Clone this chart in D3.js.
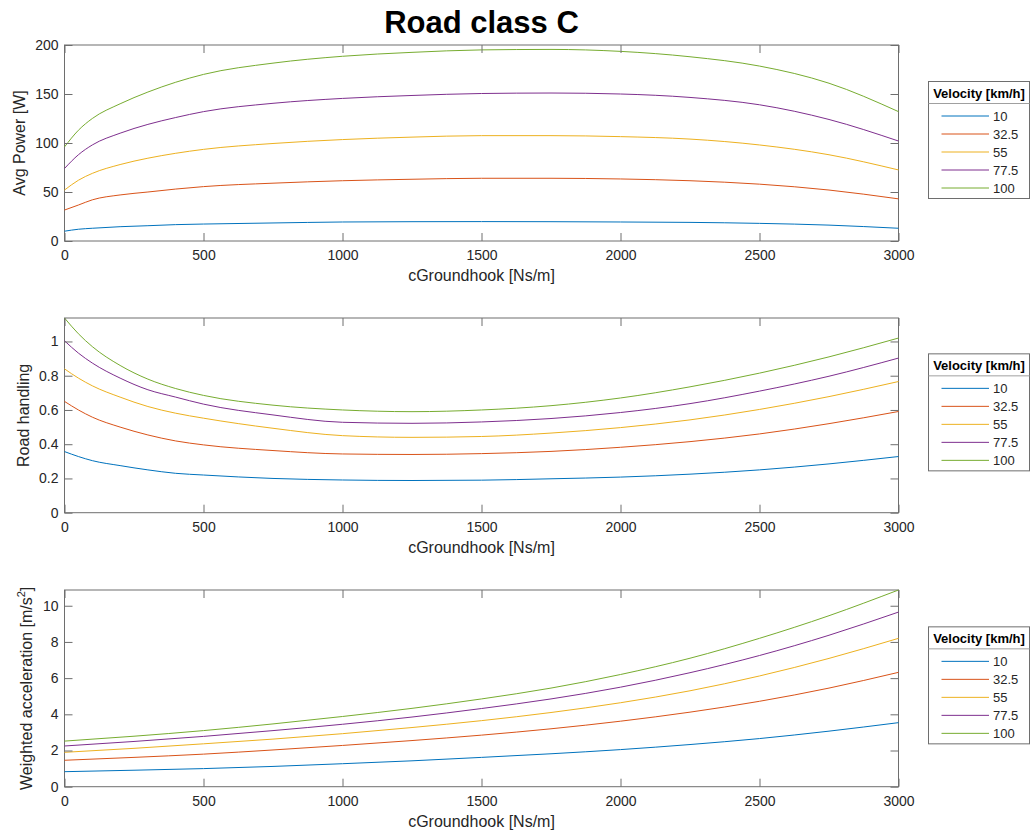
<!DOCTYPE html>
<html>
<head>
<meta charset="utf-8">
<script src="https://cdn.jsdelivr.net/npm/d3@7"></script>
<style>
  body { margin: 0; background: #ffffff; }
  svg { display: block; font-family: Arial, "Liberation Sans", Helvetica, sans-serif; }
</style>
</head>
<body>
<svg id="chart" width="1032" height="835"></svg>
<script>
// ---- data -------------------------------------------------------------
const velocities = ["10", "32.5", "55", "77.5", "100"];

// groundhook damping coefficient samples [Ns/m]
const cGround = [0, 50, 100, 200, 300, 400, 500, 750, 1000, 1250, 1500, 1750, 2000, 2250, 2500, 2750, 3000];
const cGroundAcc = [0, 250, 500, 750, 1000, 1250, 1500, 1750, 2000, 2250, 2500, 2750, 3000];

// average power [W]
const power10   = [10, 12, 13, 14.6, 15.6, 16.7, 17.3, 18.4, 19.4, 19.7, 19.8, 19.7, 19.4, 19, 18, 16.2, 13];
const power32_5 = [31.6, 36.7, 42, 47, 50, 53, 55.5, 59, 61.5, 63, 64, 64, 63.3, 61.5, 58, 52, 43];
const power55   = [52, 62, 69, 78, 84.5, 89.5, 93.5, 99.5, 103.5, 106, 107.5, 107.5, 106.5, 104, 98, 88, 72.5];
const power77_5 = [74, 88, 98, 110, 119, 126, 132, 140.5, 145.5, 148.5, 150.5, 151, 150, 146.5, 139, 124, 102];
const power100  = [96, 113, 125, 140, 152, 162, 170, 181.5, 188.5, 192.5, 195, 195.5, 193.5, 188, 178.5, 161, 132];

// road handling [-]
const handling10   = [0.357, 0.328, 0.304, 0.275, 0.25, 0.23, 0.22, 0.2, 0.191, 0.188, 0.19, 0.198, 0.208, 0.225, 0.25, 0.285, 0.328];
const handling32_5 = [0.65, 0.6, 0.558, 0.5, 0.454, 0.419, 0.396, 0.363, 0.343, 0.34, 0.345, 0.358, 0.382, 0.415, 0.46, 0.52, 0.591];
const handling55   = [0.84, 0.786, 0.741, 0.675, 0.62, 0.581, 0.552, 0.493, 0.45, 0.44, 0.445, 0.465, 0.497, 0.542, 0.603, 0.678, 0.766];
const handling77_5 = [1.004, 0.932, 0.874, 0.786, 0.718, 0.675, 0.634, 0.571, 0.528, 0.522, 0.53, 0.55, 0.585, 0.637, 0.71, 0.797, 0.903];
const handling100  = [1.137, 1.045, 0.97, 0.86, 0.78, 0.725, 0.685, 0.628, 0.6, 0.59, 0.6, 0.625, 0.67, 0.735, 0.815, 0.91, 1.02];

// weighted acceleration [m/s^2]
const accel10   = [0.83, 0.91, 1.0, 1.12, 1.27, 1.43, 1.62, 1.82, 2.05, 2.33, 2.66, 3.07, 3.54];
const accel32_5 = [1.46, 1.62, 1.8, 2.03, 2.28, 2.55, 2.85, 3.2, 3.62, 4.12, 4.72, 5.45, 6.32];
const accel55   = [1.9, 2.12, 2.37, 2.63, 2.93, 3.27, 3.65, 4.1, 4.64, 5.3, 6.12, 7.09, 8.2];
const accel77_5 = [2.25, 2.5, 2.78, 3.1, 3.45, 3.85, 4.32, 4.85, 5.5, 6.3, 7.25, 8.37, 9.65];
const accel100  = [2.52, 2.79, 3.1, 3.47, 3.88, 4.33, 4.85, 5.45, 6.2, 7.1, 8.2, 9.45, 10.87];

// tick labels
const xTicks = [0, 500, 1000, 1500, 2000, 2500, 3000];
const powerTicks = [0, 50, 100, 150, 200];
const handlingTicks = [0, 0.2, 0.4, 0.6, 0.8, 1];
const accelTicks = [0, 2, 4, 6, 8, 10];

const seriesColors = ["#0072BD", "#D95319", "#EDB120", "#7E2F8E", "#77AC30"];

// ---- layout -----------------------------------------------------------
const svg = d3.select("#chart");
const plotLeft = 64.5, plotRight = 898.5;
const axisColor = "#6e6e6e";
const textColor = "#262626";
const tickFont = 14;
const labelFont = 16;

const x = d3.scaleLinear().domain([0, 3000]).range([plotLeft, plotRight]);

const panels = [
  { top: 45, bottom: 241, domain: [0, 200], ticks: powerTicks, xs: cGround,
    series: [power10, power32_5, power55, power77_5, power100],
    ylabel: [{ t: "Avg Power [W]" }], ylabelX: 25 },
  { top: 318, bottom: 512.7, domain: [0, 1.137], ticks: handlingTicks, xs: cGround,
    series: [handling10, handling32_5, handling55, handling77_5, handling100],
    ylabel: [{ t: "Road handling" }], ylabelX: 29 },
  { top: 590, bottom: 786.7, domain: [0, 10.87], ticks: accelTicks, xs: cGroundAcc,
    series: [accel10, accel32_5, accel55, accel77_5, accel100],
    ylabel: [{ t: "Weighted acceleration [m/s" }, { t: "2", sup: true }, { t: "]" }], ylabelX: 32 }
];

// title
svg.append("text")
  .attr("x", (plotLeft + plotRight) / 2)
  .attr("y", 33)
  .attr("text-anchor", "middle")
  .attr("font-size", 31)
  .attr("font-weight", "bold")
  .attr("fill", "#000")
  .text("Road class C");

const fmt = d3.format("~g");

panels.forEach(p => {
  const y = d3.scaleLinear().domain(p.domain).range([p.bottom, p.top]);
  const g = svg.append("g");

  // plot box
  g.append("rect")
    .attr("x", plotLeft).attr("y", p.top)
    .attr("width", plotRight - plotLeft).attr("height", p.bottom - p.top)
    .attr("fill", "#fff").attr("stroke", axisColor).attr("stroke-width", 1);

  // series lines
  const line = d3.line()
    .x((d, i) => x(p.xs[i]))
    .y(d => y(d))
    .curve(d3.curveMonotoneX);
  p.series.forEach((s, k) => {
    g.append("path")
      .datum(s)
      .attr("d", line)
      .attr("fill", "none")
      .attr("stroke", seriesColors[k])
      .attr("stroke-width", 1);
  });

  // axes, ticks pointing inward on all four sides
  const styleAxis = sel => {
    sel.select(".domain").remove();
    sel.selectAll(".tick line").attr("stroke", axisColor);
    sel.selectAll(".tick text").attr("fill", textColor).attr("font-size", tickFont)
      .attr("font-family", "Arial, 'Liberation Sans', sans-serif");
  };
  g.append("g").attr("transform", `translate(0,${p.bottom})`)
    .call(d3.axisBottom(x).tickValues(xTicks).tickFormat(fmt).tickSize(-8).tickPadding(9.5))
    .call(styleAxis);
  g.append("g").attr("transform", `translate(0,${p.top})`)
    .call(d3.axisTop(x).tickValues(xTicks).tickFormat("").tickSize(-8))
    .call(styleAxis);
  g.append("g").attr("transform", `translate(${plotLeft},0)`)
    .call(d3.axisLeft(y).tickValues(p.ticks).tickFormat(fmt).tickSize(-8).tickPadding(6))
    .call(styleAxis);
  g.append("g").attr("transform", `translate(${plotRight},0)`)
    .call(d3.axisRight(y).tickValues(p.ticks).tickFormat("").tickSize(-8))
    .call(styleAxis);

  // x label
  g.append("text")
    .attr("x", (plotLeft + plotRight) / 2)
    .attr("y", p.bottom + 40)
    .attr("text-anchor", "middle")
    .attr("font-size", labelFont)
    .attr("fill", textColor)
    .text("cGroundhook [Ns/m]");

  // y label
  const yl = g.append("text")
    .attr("transform", `translate(${p.ylabelX},${(p.top + p.bottom) / 2}) rotate(-90)`)
    .attr("text-anchor", "middle")
    .attr("font-size", labelFont)
    .attr("fill", textColor);
  p.ylabel.forEach(part => {
    const ts = yl.append("tspan").text(part.t);
    if (part.sup) ts.attr("font-size", 11).attr("dy", -7);
    else if (part.t === "]") ts.attr("dy", 7);
  });

  // legend
  const legW = 101, headH = 22, rowH = 18;
  const legH = headH + 5 * rowH + 5;
  const legX = 928.5;
  const legY = (p.top + p.bottom) / 2 - legH / 2 - 3;
  const lg = g.append("g").attr("transform", `translate(${legX},${legY})`);
  lg.append("rect").attr("width", legW).attr("height", legH)
    .attr("fill", "#fff").attr("stroke", axisColor).attr("stroke-width", 1);
  lg.append("line").attr("x1", 0).attr("x2", legW).attr("y1", headH).attr("y2", headH)
    .attr("stroke", "#a0a0a0").attr("stroke-width", 1);
  lg.append("text")
    .attr("x", legW / 2).attr("y", 16.5)
    .attr("text-anchor", "middle")
    .attr("font-size", 13).attr("font-weight", "bold").attr("fill", "#000")
    .text("Velocity [km/h]");
  velocities.forEach((v, k) => {
    const cy = headH + 12.5 + k * rowH;
    lg.append("line")
      .attr("x1", 13).attr("x2", 60.5).attr("y1", cy).attr("y2", cy)
      .attr("stroke", seriesColors[k]).attr("stroke-width", 1);
    lg.append("text")
      .attr("x", 64.5).attr("y", cy + 4.5)
      .attr("font-size", 13).attr("fill", textColor)
      .text(v);
  });
});
</script>
</body>
</html>
